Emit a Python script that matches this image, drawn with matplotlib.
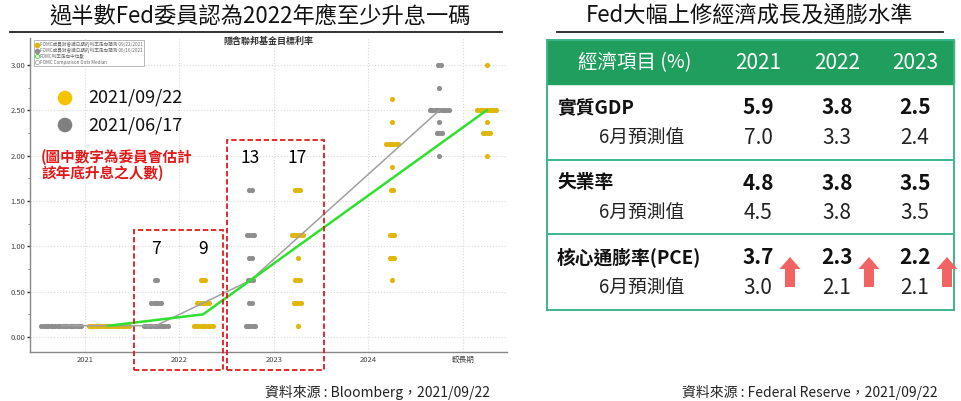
import numpy as np
import matplotlib
matplotlib.use("Agg")
import matplotlib.pyplot as plt
from matplotlib.patches import Rectangle, FancyArrow
from matplotlib.lines import Line2D

plt.rcParams['font.family'] = ['Noto Sans CJK TC', 'DejaVu Sans']

# ---- dot plot data (FOMC projections) ----
years = ['2021', '2022', '2023', '2024', '較長期']
jun_rates = [[0.125], [0.125, 0.375, 0.625],
             [0.125, 0.375, 0.625, 0.875, 1.125, 1.625], [],
             [2.0, 2.25, 2.375, 2.5, 2.75, 3.0]]
jun_counts = [[18], [11, 5, 2], [5, 2, 3, 2, 4, 2], [], [1, 3, 1, 9, 1, 2]]
sep_rates = [[0.125], [0.125, 0.375, 0.625],
             [0.125, 0.375, 0.625, 0.875, 1.125, 1.625],
             [0.625, 0.875, 1.125, 1.625, 1.875, 2.125, 2.375, 2.625],
             [2.0, 2.25, 2.375, 2.5, 3.0]]
sep_counts = [[18], [9, 6, 3], [1, 4, 3, 1, 6, 3], [1, 3, 3, 2, 1, 6, 1, 1],
              [1, 4, 1, 9, 1]]
hike_years = [1, 2]  # years with the count of hikes written on top

# ---- table data ----
tbl_years = ['2021', '2022', '2023']
tbl_items = ['實質GDP', '失業率', '核心通膨率(PCE)']
tbl_sep = [[5.9, 3.8, 2.5], [4.8, 3.8, 3.5], [3.7, 2.3, 2.2]]
tbl_jun = [[7.0, 3.3, 2.4], [4.5, 3.8, 3.5], [3.0, 2.1, 2.1]]
tbl_up = [False, False, True]

GOLD = '#dfb60a'
GRAY = '#8e8e8e'
GREEN = '#2fe02f'
RED = '#e01a1a'
TEAL = '#1f9e5e'

W, H = 962, 401
fig = plt.figure(figsize=(W / 100, H / 100), dpi=100)

# dot plot axes (pixel box: x 30..507, y 38..352)
ax = fig.add_axes([30 / W, 1 - 352 / H, 477 / W, 314 / H])
ax.set_xlim(-0.582, 4.466)
ax.set_ylim(-0.165, 3.298)
off, step = 0.25, 0.0249


def expand(rates, counts):
    return np.repeat(rates, counts) if len(rates) else np.array([])


def draw_dots(rates_all, counts_all, shift, color):
    for i, (rates, counts) in enumerate(zip(rates_all, counts_all)):
        for r, n in zip(rates, counts):
            xs = i + shift + (np.arange(n) - (n - 1) / 2) * step
            ax.plot(xs, [r] * n, 'o', ms=3.7, color=color, mec='none', zorder=3)


draw_dots(jun_rates, jun_counts, -off, GRAY)
draw_dots(sep_rates, sep_counts, off, GOLD)

jx, jy, sx, sy = [], [], [], []
for i in range(len(years)):
    d = expand(jun_rates[i], jun_counts[i])
    if len(d):
        jx.append(i - off); jy.append(np.median(d))
    d = expand(sep_rates[i], sep_counts[i])
    if len(d):
        sx.append(i + off); sy.append(np.median(d))
ax.plot(jx, jy, color='#a0a0a0', lw=1.1, zorder=4)
ax.plot(sx, sy, color=GREEN, lw=1.8, zorder=5)

# hike counts and red dashed boxes
for i in hike_years:
    nj = int(sum(c for r, c in zip(jun_rates[i], jun_counts[i]) if r > 0.125))
    ns = int(sum(c for r, c in zip(sep_rates[i], sep_counts[i]) if r > 0.125))
    top = max(jun_rates[i] + sep_rates[i])
    ty = top + 0.35
    ax.text(i - off, ty, str(nj), ha='center', va='center', fontsize=12.5, zorder=6)
    ax.text(i + off, ty, str(ns), ha='center', va='center', fontsize=12.5, zorder=6)
    x0 = i - 0.48 if i == 1 else i - 0.5
    x1 = i + 0.46 if i == 1 else i + 0.53
    ax.add_patch(Rectangle((x0, -0.36), x1 - x0, ty + 0.2 + 0.36, fill=False,
                           ec=RED, lw=1.3, ls=(0, (3, 1.5)), clip_on=False, zorder=7))

ax.set_xticks(range(len(years)))
ax.set_xticklabels(years, fontsize=5.5, color='#444')
ax.set_yticks(np.arange(0, 3.01, 0.5))
ax.set_yticks(np.arange(0, 3.01, 0.25), minor=True)
ax.set_yticklabels([f'{v:.2f}' for v in np.arange(0, 3.01, 0.5)], fontsize=5.5, color='#444')
ax.tick_params(axis='x', length=0, pad=3)
ax.tick_params(axis='y', which='major', length=2.5, width=1, color='#333', pad=1)
ax.tick_params(axis='y', which='minor', length=1.5, width=0.6, color='#777')
ax.grid(True, which='major', ls=':', lw=0.8, color='#d8d8d8')
ax.set_axisbelow(True)
for s in ['top', 'right']:
    ax.spines[s].set_visible(False)
for s in ['left', 'bottom']:
    ax.spines[s].set_color('#888')
    ax.spines[s].set_linewidth(1)
ax.set_title('隱含聯邦基金目標利率', fontsize=6.5, color='#333', x=0.5, y=0.955,
             fontweight='bold')

handles = [Line2D([], [], marker='o', ls='none', color=GOLD, ms=3),
           Line2D([], [], marker='o', ls='none', color=GRAY, ms=3),
           Line2D([], [], marker='o', ls='none', mfc='none', mec=GREEN, ms=3, mew=0.6),
           Line2D([], [], marker='o', ls='none', mfc='none', mec='#aaa', ms=3, mew=0.6)]
labels = ['FOMC成員對會議日期的利率走向預測 09/22/2021',
          'FOMC成員對會議日期的利率走向預測 06/16/2021',
          'FOMC利率走向中位數', 'FOMC Comparison Dots Median']
leg = ax.legend(handles, labels, loc='upper left', bbox_to_anchor=(0.003, 1.0),
                fontsize=3.3, frameon=True, handletextpad=0.2, borderpad=0.35,
                labelspacing=0.15, handlelength=0.8, fancybox=False,
                labelcolor='#666')
leg.get_frame().set_edgecolor('#999')
leg.get_frame().set_linewidth(0.6)

# overlay in pixel coordinates for titles, notes and the table
ov = fig.add_axes([0, 0, 1, 1])
ov.set_xlim(0, W)
ov.set_ylim(H, 0)
ov.axis('off')

ov.text(260, 16, '過半數Fed委員認為2022年應至少升息一碼', ha='center', va='center',
        fontsize=16, color='#111')
ov.plot([10, 502], [32, 32], color='#222', lw=1.3)

ov.scatter([65, 65], [98, 125], s=90, color=['#f5c400', '#7f7f7f'], zorder=8)
ov.text(88, 98, '2021/09/22', va='center', fontsize=13, color='#111')
ov.text(88, 125, '2021/06/17', va='center', fontsize=13, color='#111')
ov.text(41, 157, '(圖中數字為委員會估計', va='center', fontsize=10.5,
        color=RED, fontweight='bold')
ov.text(41, 173, '該年底升息之人數)', va='center', fontsize=10.5,
        color=RED, fontweight='bold')
ov.text(490, 392, '資料來源 : Bloomberg，2021/09/22', ha='right', va='center',
        fontsize=10, color='#222')

# right panel
ov.text(750, 16, 'Fed大幅上修經濟成長及通膨水準', ha='center', va='center',
        fontsize=16, color='#111')
ov.plot([557, 943], [32, 32], color='#222', lw=1.3)

tx0, tx1, ty0, ty1 = 547, 954, 40, 310
ov.add_patch(Rectangle((tx0, ty0), tx1 - tx0, 44, color=TEAL, zorder=1))
ov.add_patch(Rectangle((tx0, ty0), tx1 - tx0, ty1 - ty0, fill=False,
                       ec='#3db58a', lw=1.4, zorder=2))
for yy in [160, 234]:
    ov.plot([tx0, tx1], [yy, yy], color='#3db58a', lw=1.4, zorder=2)

col_x = [758, 837, 915]
ov.text(635, 63, '經濟項目 (%)', ha='center', va='center', fontsize=14,
        color='white')
for cx, yr in zip(col_x, tbl_years):
    ov.text(cx, 63, yr, ha='center', va='center', fontsize=15, color='white')

row_y = [108, 183, 258]
for ry, item, sv, jv, up in zip(row_y, tbl_items, tbl_sep, tbl_jun, tbl_up):
    ov.text(557, ry, item, va='center', fontsize=13.5, fontweight='bold', color='#111')
    ov.text(599, ry + 30, '6月預測值', va='center', fontsize=13.5, color='#222')
    for cx, a, b in zip(col_x, sv, jv):
        ov.text(cx, ry, f'{a:.1f}', ha='center', va='center', fontsize=15,
                fontweight='bold', color='#111')
        ov.text(cx, ry + 30, f'{b:.1f}', ha='center', va='center', fontsize=15,
                color='#222')
        if up:
            ov.add_patch(FancyArrow(cx + 32, ry + 29, 0, -30, width=10,
                                    head_width=21, head_length=12,
                                    length_includes_head=True, color='#f26464',
                                    lw=0, zorder=5))

ov.text(938, 392, '資料來源 : Federal Reserve，2021/09/22', ha='right', va='center',
        fontsize=10, color='#222')

fig.savefig('out.png', dpi=100)
